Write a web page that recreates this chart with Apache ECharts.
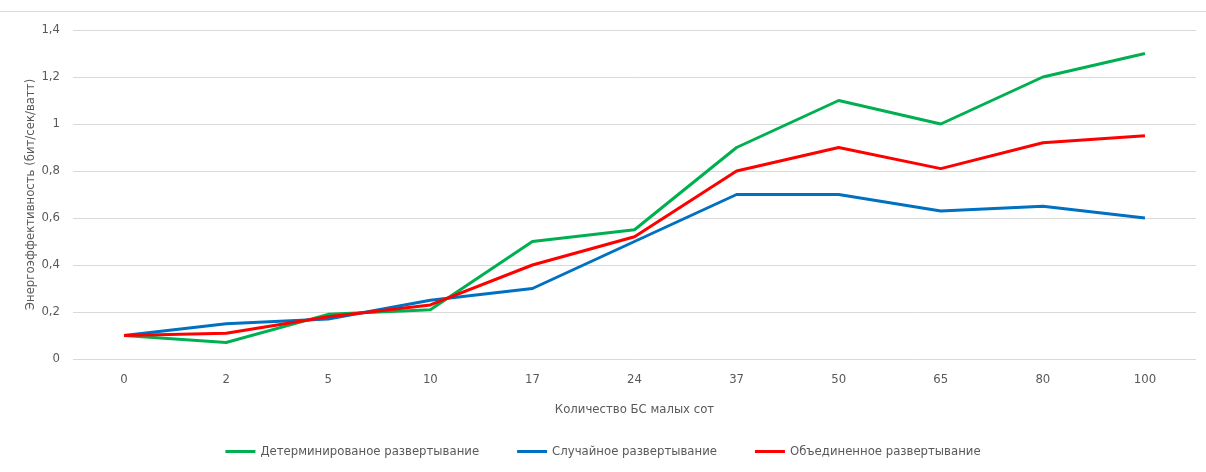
<!DOCTYPE html>
<html><head><meta charset="utf-8">
<script src="https://cdn.jsdelivr.net/npm/echarts@6/dist/echarts.min.js"></script>
<style>html,body{margin:0;padding:0;background:#fff}#top{position:absolute;left:0;top:11px;width:1206px;height:0;border-top:1px solid #d9d9d9}#c{width:1206px;height:472px}</style>
</head><body><div id="c"></div><div id="top"></div>
<script>
const categories = ['0','2','5','10','17','24','37','50','65','80','100'];
const detValues = [0.1,0.07,0.19,0.21,0.5,0.55,0.9,1.1,1.0,1.2,1.3];
const randValues = [0.1,0.15,0.17,0.25,0.3,0.5,0.7,0.7,0.63,0.65,0.6];
const combValues = [0.1,0.11,0.18,0.23,0.4,0.52,0.8,0.9,0.81,0.92,0.95];
const seriesNames = ['Детерминированое развертывание','Случайное развертывание','Объединенное развертывание'];
const font = '"DejaVu Sans Condensed","Liberation Sans Narrow","Open Sans",sans-serif';
const fs = 13;
const chart = echarts.init(document.getElementById('c'));
const mk = (name, data, color) => ({name, type:'line', data, symbol:'none', smooth:false,
  lineStyle:{width:3, color}, itemStyle:{color}});
chart.setOption({
  animation:false,
  textStyle:{fontFamily:font},
  grid:{left:73,right:10,top:30,bottom:113},
  legend:{bottom:9,left:'center',itemWidth:30,itemHeight:3,itemGap:38,icon:'rect',
    textStyle:{color:'#595959',fontSize:fs,fontFamily:font},
    data:seriesNames},
  xAxis:{type:'category',data:categories,boundaryGap:true,
    name:'Количество БС малых сот',nameLocation:'middle',nameGap:44,nameMoveOverlap:false,
    nameTextStyle:{color:'#595959',fontSize:fs,fontFamily:font},
    axisLine:{show:false},axisTick:{show:false},
    axisLabel:{color:'#595959',fontSize:fs,margin:14,fontFamily:font}},
  yAxis:{type:'value',min:0,max:1.4,interval:0.2,
    name:'Энергоэффективность (бит/сек/ватт)',nameLocation:'middle',nameGap:36,nameMoveOverlap:false,
    nameTextStyle:{color:'#595959',fontSize:fs,fontFamily:font},
    axisLine:{show:false},axisTick:{show:false},
    axisLabel:{color:'#595959',fontSize:fs,margin:13,fontFamily:font,
      formatter:v=>String(+v.toFixed(1)).replace('.',',')},
    splitLine:{lineStyle:{color:'#d9d9d9',width:1}}},
  series:[mk(seriesNames[0],detValues,'#00b050'),mk(seriesNames[1],randValues,'#0070c0'),mk(seriesNames[2],combValues,'#ff0000')]
});
</script></body></html>
